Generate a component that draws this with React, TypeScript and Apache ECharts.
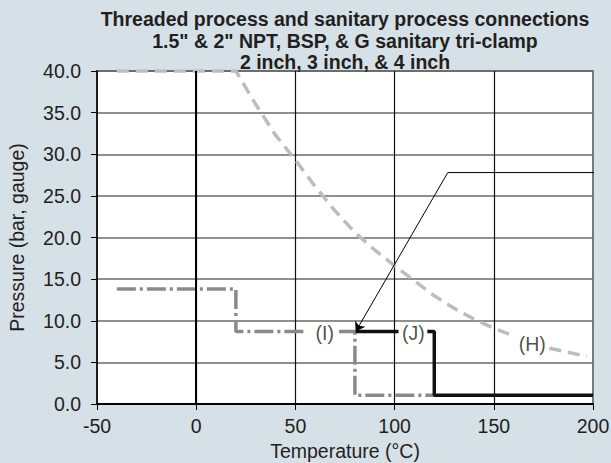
import React, { useEffect, useRef } from "react";
import * as echarts from "echarts";

const titleText =
  "Threaded process and sanitary process connections\n" +
  '1.5" & 2" NPT, BSP, & G sanitary tri-clamp\n' +
  "2 inch, 3 inch, & 4 inch";
const xTitle = "Temperature (°C)";
const yTitle = "Pressure (bar, gauge)";

// Curve (H): light gray dashed, split around its label
const hSegA: [number, number][] = [
  [-40, 40], [20, 40], [30, 36], [40, 32.3], [50, 29.3], [60, 26.1], [70, 23.2],
  [80, 20.6], [90, 18.5], [100, 16.6], [110, 14.8], [120, 13.0], [130, 11.5],
  [140, 10.2], [150, 9.1], [160, 8.2],
];
const hSegB: [number, number][] = [[178, 6.7], [197, 5.7]];

// Curve (I): gray dash-dot, split around its label
const iSegA: [number, number][] = [[-40, 13.8], [20, 13.8], [20, 8.7], [55.5, 8.7]];
const iSegB: [number, number][] = [[72, 8.7], [80, 8.7], [80, 1.05], [120, 1.05]];

// Curve (J): black solid, split around its label
const jSegA: [number, number][] = [[80.5, 8.7], [102, 8.7]];
const jSegB: [number, number][] = [[116.5, 8.7], [120, 8.7], [120, 1.05], [200, 1.05]];

// Leader line with arrow
const leaderStart: [number, number] = [126.8, 27.8];
const leaderTip: [number, number] = [80.4, 8.7];
const leaderEnd: [number, number] = [212, 27.8];

// Curve labels
const curveLabels = [
  { name: "(I)", value: [64.8, 8.5] },
  { name: "(J)", value: [109.5, 8.5] },
  { name: "(H)", value: [169.4, 7.2] },
];

const FONT = "'Liberation Sans', Arial, Helvetica, sans-serif";
const TXT = "#231f20";
const FS = 19.5;

export default function App() {
  const ref = useRef<HTMLDivElement>(null);
  useEffect(() => {
    if (!ref.current) return;
    const chart = echarts.init(ref.current, undefined, { renderer: "svg" });
    const lineBase = { type: "line", showSymbol: false, symbol: "none", silent: true };
    chart.setOption({
      animation: false,
      backgroundColor: "#d6e0e7",
      title: {
        text: titleText,
        left: 345,
        top: 8,
        padding: 0,
        textAlign: "center",
        textStyle: { fontFamily: FONT, fontSize: FS, fontWeight: "bold", color: TXT, lineHeight: 21.7 },
      },
      grid: {
        left: 97, right: 18, top: 71, bottom: 59,
        containLabel: false, outerBoundsMode: "none",
        show: true, backgroundColor: "#ffffff", borderColor: "#7a7a7a", borderWidth: 2,
      },
      xAxis: {
        type: "value", min: -50, max: 200, interval: 50,
        name: xTitle, nameLocation: "middle", nameGap: 35,
        nameTextStyle: { fontFamily: FONT, fontSize: FS, color: TXT, lineHeight: 21 },
        axisLine: { show: true, onZero: false, lineStyle: { color: "#000", width: 2 } },
        axisTick: { show: true, inside: false, length: 6, lineStyle: { color: "#000", width: 1 } },
        axisLabel: { margin: 12, fontFamily: FONT, fontSize: FS, color: TXT },
        splitLine: { show: true, showMinLine: false, showMaxLine: false, lineStyle: { color: "#111", width: 1.2 } },
      },
      yAxis: {
        type: "value", min: 0, max: 40, interval: 5,
        name: yTitle, nameLocation: "middle", nameGap: 70,
        nameTextStyle: { fontFamily: FONT, fontSize: FS, color: TXT },
        axisLine: { show: true, onZero: false, lineStyle: { color: "#000", width: 1.5 } },
        axisTick: { show: true, inside: false, length: 6, lineStyle: { color: "#000", width: 1 } },
        axisLabel: { margin: 16, fontFamily: FONT, fontSize: FS, color: TXT, formatter: (v: number) => v.toFixed(1) },
        splitLine: { show: true, showMinLine: false, lineStyle: { color: "#6a6a6a", width: 1.5 } },
      },
      series: [
        {
          ...lineBase, data: [], z: 1,
          markLine: {
            silent: true, symbol: ["none", "none"], label: { show: false },
            lineStyle: { color: "#000", width: 2, type: "solid" },
            data: [{ xAxis: 0 }],
          },
        },
        { ...lineBase, data: hSegA, lineStyle: { color: "#bdbdbd", width: 3.5, type: [12, 7] } },
        { ...lineBase, data: hSegB, lineStyle: { color: "#bdbdbd", width: 3.5, type: [12, 7] } },
        { ...lineBase, data: iSegA, lineStyle: { color: "#8a8a8a", width: 3.5, type: [19, 4, 3, 4] } },
        { ...lineBase, data: iSegB, lineStyle: { color: "#8a8a8a", width: 3.5, type: [19, 4, 3, 4] } },
        { ...lineBase, data: jSegA, lineStyle: { color: "#111", width: 3.5, type: "solid" } },
        { ...lineBase, data: jSegB, lineStyle: { color: "#111", width: 3.5, type: "solid" } },
        {
          ...lineBase, data: [leaderStart, leaderEnd], clip: false, z: 5,
          lineStyle: { color: "#000", width: 1, type: "solid" },
          markLine: {
            silent: true, symbol: ["none", "arrow"], symbolSize: 9, label: { show: false },
            lineStyle: { color: "#000", width: 1, type: "solid" },
            data: [[{ coord: leaderStart }, { coord: leaderTip }]],
          },
        },
        {
          type: "scatter", silent: true, symbolSize: 0.1, itemStyle: { color: "transparent" },
          data: curveLabels,
          label: {
            show: true, position: "inside", formatter: "{b}",
            fontFamily: FONT, fontSize: FS, color: TXT,
          },
        },
      ],
    });
    return () => chart.dispose();
  }, []);
  return <div ref={ref} style={{ position: "fixed", left: 0, top: 0, width: 611, height: 463 }} />;
}
